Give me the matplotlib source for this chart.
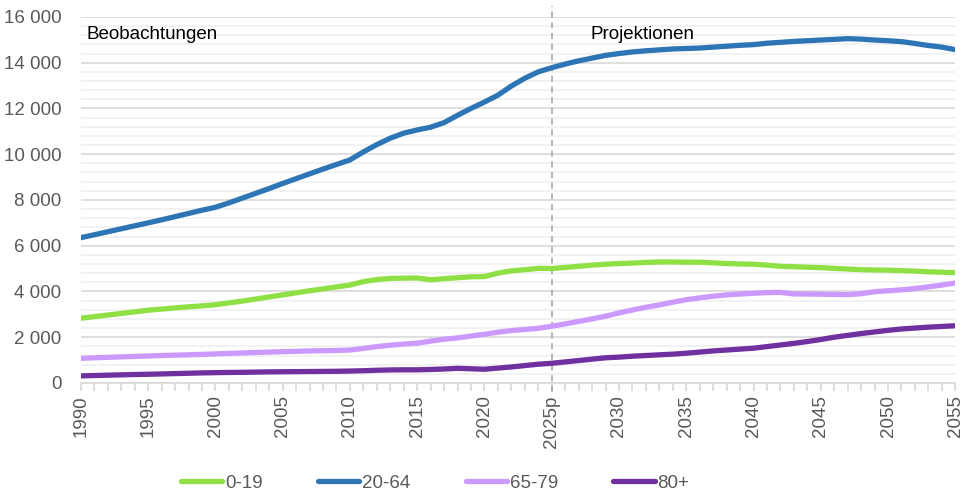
import matplotlib
matplotlib.use("Agg")
import matplotlib.pyplot as plt
from matplotlib.ticker import FuncFormatter, MultipleLocator
from matplotlib.lines import Line2D

plt.rcParams['font.family'] = ['Liberation Sans', 'DejaVu Sans']

years = list(range(1990, 2056))

age_0_19 = [2830, 2900, 2970, 3040, 3110, 3180, 3230, 3280, 3330, 3370,
            3420, 3500, 3580, 3670, 3760, 3850, 3940, 4030, 4110, 4200,
            4280, 4430, 4520, 4570, 4580, 4590, 4510, 4560, 4600, 4640,
            4650, 4800, 4900, 4950, 5010, 5000, 5050, 5100, 5150, 5190,
            5220, 5240, 5270, 5290, 5290, 5280, 5280, 5250, 5220, 5200,
            5190, 5150, 5100, 5080, 5060, 5040, 5010, 4980, 4950, 4940,
            4930, 4910, 4890, 4860, 4840, 4820]

age_20_64 = [6350, 6480, 6610, 6740, 6870, 7000, 7130, 7270, 7410, 7550,
             7680, 7870, 8080, 8290, 8500, 8720, 8930, 9140, 9350, 9550,
             9750, 10100, 10420, 10700, 10920, 11060, 11180, 11380, 11700, 12000,
             12280, 12580, 12980, 13320, 13600, 13780, 13940, 14080, 14200, 14320,
             14400, 14470, 14520, 14560, 14600, 14620, 14640, 14680, 14720, 14760,
             14790, 14850, 14890, 14930, 14960, 14990, 15020, 15050, 15030, 14990,
             14960, 14920, 14840, 14750, 14680, 14570]

age_65_79 = [1080, 1100, 1120, 1140, 1160, 1180, 1200, 1215, 1230, 1250,
             1270, 1290, 1310, 1330, 1350, 1370, 1380, 1400, 1410, 1420,
             1440, 1510, 1590, 1650, 1700, 1740, 1830, 1910, 1970, 2050,
             2130, 2220, 2290, 2340, 2390, 2480, 2580, 2690, 2800, 2920,
             3060, 3190, 3310, 3410, 3530, 3640, 3720, 3790, 3850, 3890,
             3920, 3950, 3960, 3890, 3890, 3880, 3870, 3860, 3900, 3990,
             4030, 4070, 4130, 4200, 4280, 4370]

age_80_plus = [310, 325, 340, 355, 370, 380, 395, 410, 425, 440,
               450, 460, 465, 475, 485, 490, 495, 500, 505, 510,
               520, 535, 555, 570, 575, 575, 590, 610, 640, 620,
               600, 650, 700, 760, 820, 860, 920, 980, 1040, 1100,
               1130, 1170, 1200, 1230, 1260, 1300, 1350, 1400, 1440, 1480,
               1520, 1590, 1660, 1730, 1810, 1900, 2000, 2080, 2160, 2230,
               2300, 2360, 2400, 2440, 2470, 2500]

series_labels = ["0-19", "20-64", "65-79", "80+"]
series_colors = ["#8FE045", "#2E75B6", "#CC99FF", "#7030A0"]
series_values = [age_0_19, age_20_64, age_65_79, age_80_plus]

label_years = list(range(1990, 2056, 5))
label_texts = [("2025p" if y == 2025 else str(y)) for y in label_years]

gray = "#595959"
fs = 13.5

fig = plt.figure(figsize=(9.63, 4.98), dpi=100)
ax = fig.add_axes([0.084, 0.231, 0.908, 0.735])

for vals, col, lab in zip(series_values, series_colors, series_labels):
    ax.plot(years, vals, color=col, lw=3.8, solid_capstyle="round",
            solid_joinstyle="round", label=lab, zorder=3)

ax.set_xlim(1990, 2055)
ax.set_ylim(0, 16000)

# gridlines: major every 2000, minor every 400
ax.yaxis.set_major_locator(MultipleLocator(2000))
ax.yaxis.set_minor_locator(MultipleLocator(400))
ax.grid(axis="y", which="major", color="#D9D9D9", lw=1.2, zorder=0)
ax.grid(axis="y", which="minor", color="#F0F0F0", lw=1.2, zorder=0)
ax.tick_params(axis="y", which="both", length=0, labelsize=fs,
               labelcolor=gray, pad=14)
ax.yaxis.set_major_formatter(FuncFormatter(lambda v, p: f"{int(v):,}".replace(",", " ")))

ax.set_xticks(label_years)
ax.set_xticklabels(label_texts, rotation=90, fontsize=fs, color=gray)
ax.xaxis.set_minor_locator(MultipleLocator(1))
ax.tick_params(axis="x", which="both", length=6, color="#D9D9D9", width=1.2, pad=3)

for side in ["top", "right", "left"]:
    ax.spines[side].set_visible(False)
ax.spines["bottom"].set_color("#D9D9D9")
ax.spines["bottom"].set_linewidth(1.2)

ax.axvline(2025, ymin=-0.025, ymax=1.03, color="#A0A0A0", lw=1.1,
           ls=(0, (4, 3)), clip_on=False, zorder=2)

ax.text(1990.45, 15250, "Beobachtungen", fontsize=fs, color="black", va="center")
ax.text(2027.9, 15250, "Projektionen", fontsize=fs, color="black", va="center")

handles = [Line2D([0], [0], color=c, lw=3.8, solid_capstyle="round") for c in series_colors]
fig.legend(handles, series_labels, loc="center", bbox_to_anchor=(0.452, 0.03),
           ncol=4, frameon=False, fontsize=fs, labelcolor=gray,
           handlelength=2.2, handletextpad=0.15, columnspacing=2.95)

fig.savefig("out.png", dpi=100)
